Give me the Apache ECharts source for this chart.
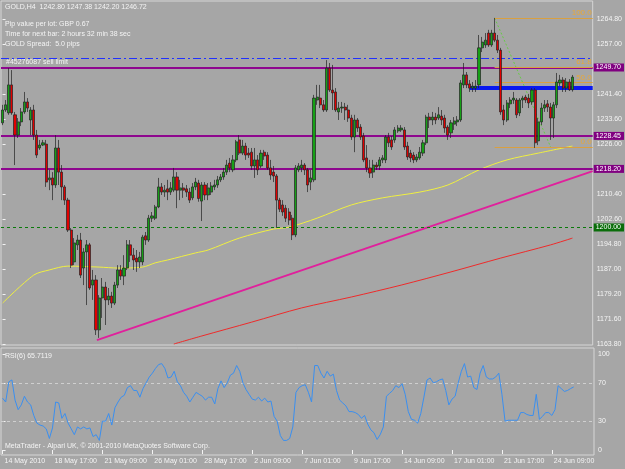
<!DOCTYPE html>
<html><head><meta charset="utf-8">
<script src="https://cdn.jsdelivr.net/npm/echarts@6/dist/echarts.min.js"></script>
<style>html,body{margin:0;padding:0;background:#a6a6a6}#c{width:625px;height:469px}</style>
</head><body><div id="c"></div>
<script>
// GOLD H4 candles: [open, close, low, high]
const candles = [
[1232.5,1236.5,1231.8,1238.1],[1236.5,1238.1,1235.9,1239.6],[1235.6,1244.3,1235.0,1249.5],[1244.3,1235.6,1235.0,1248.9],
[1235.0,1228.7,1219.4,1235.9],[1228.7,1232.8,1227.8,1234.0],[1232.8,1235.9,1231.5,1237.1],[1235.9,1239.0,1235.3,1242.1],
[1239.0,1237.1,1235.9,1240.2],[1233.4,1236.5,1228.7,1237.4],[1236.5,1228.7,1227.2,1238.1],[1228.7,1222.5,1221.6,1230.3],
[1224.7,1225.6,1224.1,1227.2],[1225.6,1226.3,1225.3,1227.2],[1225.9,1214.1,1212.6,1227.2],[1214.8,1215.4,1211.6,1217.9],
[1215.4,1213.2,1208.5,1217.2],[1213.2,1224.7,1212.3,1228.7],[1224.7,1217.2,1213.2,1227.2],[1217.2,1212.6,1208.5,1219.4],
[1212.6,1208.5,1207.0,1213.2],[1208.5,1199.2,1198.6,1209.2],[1199.2,1188.3,1187.4,1199.8],[1189.3,1195.2,1188.3,1196.7],
[1194.6,1196.1,1193.0,1197.7],[1196.1,1185.2,1184.3,1198.3],[1187.4,1192.4,1182.1,1193.6],[1192.4,1194.6,1175.9,1196.1],
[1194.6,1181.2,1180.6,1195.2],[1182.1,1183.7,1177.5,1186.8],[1183.7,1168.2,1166.6,1185.2],[1168.2,1178.1,1165.7,1179.0],
[1178.1,1181.5,1171.9,1184.3],[1181.5,1177.5,1169.7,1183.1],[1177.5,1178.7,1175.9,1181.2],[1178.7,1176.5,1175.0,1180.0],
[1176.5,1182.1,1175.9,1183.1],[1182.1,1186.8,1181.2,1188.3],[1186.8,1184.9,1183.7,1188.3],[1184.9,1187.4,1182.1,1191.4],
[1187.4,1194.6,1186.8,1196.1],[1194.6,1191.4,1189.3,1196.1],[1191.4,1189.9,1186.8,1193.6],[1190.5,1189.3,1186.2,1193.0],
[1189.3,1190.8,1187.4,1192.4],[1189.3,1197.0,1188.3,1197.7],[1197.4,1196.1,1194.6,1198.6],[1196.1,1202.9,1195.5,1203.9],
[1202.9,1203.6,1201.7,1204.8],[1202.9,1206.4,1202.3,1207.0],[1206.4,1212.6,1206.0,1215.4],[1212.6,1211.0,1210.1,1213.8],
[1211.0,1211.6,1209.5,1213.2],[1212.0,1211.0,1208.5,1214.8],[1211.0,1212.3,1210.1,1214.1],[1211.6,1215.7,1211.0,1218.5],
[1215.7,1211.6,1206.0,1217.2],[1211.6,1212.3,1208.5,1214.8],[1212.3,1211.6,1209.2,1213.8],[1212.0,1211.0,1209.5,1213.2],
[1211.0,1208.5,1207.6,1212.3],[1209.2,1212.6,1208.5,1213.8],[1212.6,1214.1,1211.6,1215.4],[1213.8,1209.0,1208.0,1214.8],
[1208.2,1213.2,1202.0,1214.1],[1213.2,1210.1,1208.5,1214.1],[1210.1,1212.3,1208.5,1213.8],[1211.0,1212.9,1210.1,1214.1],
[1212.6,1213.2,1211.6,1214.8],[1213.2,1214.8,1212.3,1216.0],[1214.8,1215.7,1214.1,1216.6],[1215.7,1217.2,1214.8,1218.5],
[1217.2,1219.4,1216.3,1221.0],[1220.0,1218.5,1217.2,1221.6],[1217.9,1221.0,1217.2,1222.5],[1221.0,1226.6,1220.3,1227.2],
[1227.2,1223.1,1222.5,1228.7],[1223.1,1225.3,1222.5,1227.2],[1225.3,1222.5,1221.0,1226.3],[1223.1,1222.5,1221.6,1224.7],
[1223.4,1219.1,1217.9,1224.7],[1219.1,1221.0,1215.4,1224.7],[1221.0,1217.9,1216.3,1222.5],[1219.1,1223.1,1218.5,1224.1],
[1223.4,1222.2,1221.0,1224.1],[1222.5,1218.5,1217.9,1223.4],[1218.5,1216.3,1214.8,1221.0],[1217.2,1216.0,1214.1,1219.1],
[1216.0,1208.5,1199.8,1216.6],[1208.5,1205.7,1204.8,1209.2],[1207.0,1204.8,1203.6,1208.5],[1206.0,1202.9,1201.7,1207.0],
[1204.8,1202.3,1200.8,1206.0],[1202.9,1197.7,1196.1,1203.9],[1197.7,1218.5,1197.0,1219.4],[1217.9,1219.1,1217.2,1220.0],
[1218.5,1219.4,1217.2,1221.0],[1219.4,1217.9,1216.3,1220.0],[1217.9,1213.2,1211.0,1218.5],[1214.1,1215.4,1211.6,1217.9],
[1214.8,1240.2,1214.1,1241.2],[1239.6,1240.5,1238.1,1244.3],[1240.2,1238.1,1237.1,1244.3],[1238.1,1236.5,1235.9,1239.6],
[1236.5,1249.5,1235.9,1252.0],[1249.5,1242.7,1242.1,1251.1],[1242.7,1241.8,1236.5,1250.5],[1242.1,1236.5,1235.9,1243.3],
[1235.9,1237.1,1233.4,1239.0],[1237.1,1237.4,1235.6,1239.0],[1237.4,1236.5,1233.4,1238.7],[1236.5,1234.0,1232.8,1238.1],
[1234.0,1228.1,1227.2,1235.0],[1228.1,1233.4,1223.4,1235.0],[1233.4,1230.9,1229.7,1234.0],[1231.2,1228.1,1227.2,1232.1],
[1228.4,1221.0,1220.3,1229.4],[1221.6,1218.5,1217.2,1225.6],[1218.5,1216.9,1215.4,1221.0],[1217.2,1219.4,1215.4,1221.0],
[1219.4,1218.8,1217.9,1220.3],[1219.1,1221.0,1217.9,1221.9],[1221.0,1221.6,1220.0,1222.5],[1221.0,1228.1,1220.0,1228.7],
[1228.1,1226.3,1225.0,1229.4],[1227.2,1225.0,1224.1,1228.4],[1227.2,1230.3,1226.3,1231.2],[1230.0,1230.9,1229.4,1231.8],
[1230.3,1230.9,1229.7,1231.8],[1230.3,1225.0,1224.1,1231.2],[1225.3,1221.9,1221.0,1226.6],[1223.1,1221.6,1220.3,1224.1],
[1222.5,1221.0,1220.0,1223.4],[1221.0,1221.9,1220.3,1222.8],[1221.6,1223.4,1221.0,1225.0],[1223.1,1226.3,1222.2,1227.2],
[1226.3,1234.3,1225.6,1235.0],[1234.3,1233.4,1230.9,1235.6],[1233.4,1234.3,1231.8,1235.9],[1234.3,1233.4,1232.1,1235.6],
[1234.0,1235.0,1233.4,1237.4],[1234.6,1233.4,1231.8,1236.5],[1234.0,1230.9,1229.4,1235.0],[1231.2,1228.7,1227.2,1231.8],
[1229.4,1232.5,1227.8,1233.4],[1232.1,1233.1,1230.3,1234.3],[1232.8,1233.4,1231.5,1234.6],[1233.4,1244.9,1232.8,1245.8],
[1244.3,1247.4,1243.3,1251.1],[1247.4,1244.3,1243.3,1248.3],[1244.6,1243.3,1242.1,1245.8],[1243.3,1243.9,1242.1,1245.2],
[1243.3,1243.9,1242.1,1245.8],[1244.3,1255.8,1243.3,1259.8],[1255.8,1257.6,1254.5,1259.2],[1256.7,1258.2,1255.8,1260.4],
[1260.4,1256.7,1256.1,1261.4],[1256.7,1260.4,1256.1,1261.4],[1260.4,1258.2,1257.6,1265.1],[1258.2,1255.1,1254.2,1259.8],
[1255.1,1235.9,1235.0,1255.8],[1236.5,1233.4,1231.8,1238.1],[1233.4,1238.7,1232.8,1239.6],[1238.4,1239.6,1237.1,1240.5],
[1239.6,1240.2,1238.4,1242.1],[1239.6,1235.0,1234.0,1240.2],[1235.6,1239.6,1234.6,1240.2],[1239.6,1240.2,1237.1,1240.9],
[1240.5,1239.6,1238.7,1241.2],[1240.2,1238.7,1237.1,1241.5],[1239.0,1242.7,1238.1,1243.3],[1242.7,1226.3,1224.7,1243.3],
[1226.9,1232.8,1225.6,1234.0],[1232.8,1237.1,1231.8,1238.7],[1237.1,1238.1,1235.9,1239.6],[1238.4,1237.4,1235.9,1239.6],
[1237.4,1234.0,1227.2,1238.7],[1234.0,1238.1,1227.8,1239.0],[1238.1,1245.2,1237.1,1248.0],[1244.9,1245.8,1243.9,1247.4],
[1245.8,1243.3,1242.1,1246.7],[1243.3,1245.2,1242.1,1246.4],[1245.2,1242.8,1242.4,1246.1],[1242.80,1246.72,1242.20,1247.38]
];
const futureBars = 6;
const tickEvery = 16;
const tickLabels = ['14 May 2010','18 May 17:00','21 May 09:00','26 May 01:00','28 May 17:00','2 Jun 09:00',
  '7 Jun 01:00','9 Jun 17:00','14 Jun 09:00','17 Jun 01:00','21 Jun 17:00','24 Jun 09:00'];
const priceTicks = [1264.80,1257.00,1241.40,1233.60,1226.00,1210.40,1202.60,1194.80,1187.00,1179.20,1171.60,1163.80];
const priceMin = 1163.49, priceMax = 1270.36;
// RSI(6), one reading per bar
const rsiValues = [54,50,71,73,52,42,47,56,50,47,36,28,26,25,22,12,23,50,49,33,38,28,22,16,24,22,24,22,23,14,
16,10,30,30,38,26,44,50,55,57,65,67,62,62,55,64,70,76,80,85,89,90,85,75,76,82,71,67,60,56,
50,55,60,58,56,52,55,55,48,64,72,65,70,78,80,88,82,70,63,58,53,52,55,51,54,50,51,35,30,15,
10,10,12,24,60,65,67,68,60,50,88,88,80,75,82,77,79,62,52,49,46,40,40,39,37,33,36,27,21,18,
11,16,24,56,59,62,67,65,69,58,40,32,31,28,38,55,73,75,70,71,73,74,62,47,53,56,70,82,90,76,
77,65,63,80,88,76,74,74,76,80,58,30,31,31,31,31,39,39,37,36,36,58,32,35,39,39,36,42,67,64,
61,62,64,65.7];
const rsiTicks = [0,30,70,100];
const rsiLevels = [30,70];
// moving averages read at [bar, price]
const maYellow = [[0,1176.5],[10,1185.2],[15,1186.8],[21,1188.0],[31,1187.7],[37,1187.4],[45,1187.7],[49,1189.0],
  [53,1189.9],[62,1192.1],[66,1193.0],[76,1196.7],[87,1199.5],[92,1200.1],[101,1202.9],[112,1207.0],[122,1209.2],
  [134,1211.0],[143,1213.2],[153,1217.9],[162,1221.0],[172,1223.1],[183,1225.3]];
const maRed = [[55,1163.8],[64,1166.3],[80,1170.6],[96,1175.0],[112,1178.4],[128,1182.1],[144,1186.2],[160,1190.5],
  [176,1194.6],[183,1196.7]];
const hLevels = [1249.70,1228.45,1218.20];
const hLevelLabels = ['1249.70','1228.45','1218.20'];
const greenLevel = 1200.00;
const blueDashLevel = 1252.65;
const blueThickLevel = 1243.3, blueThickStart = 150;
const bidPrice = 1246.72;
const fibNames = ['100.0','61.8','50.0','0.0'];
const fibPrices = [1265.1,1249.8,1245.05,1225.0];
const fibStart = 158;
const fibTrend = [[158,1265.1],[176,1225.0]];
const trendLine = [[30.3,1165.0],[189.5,1217.5]];

const N = candles.length + futureBars;
const categories = Array.from({length:N}, (_, i) => String(i));
const xMin = -0.5, xMax = N - 0.5;
const tickPositions = tickLabels.map((_, k) => k * tickEvery);
const FONT = '"Liberation Sans", Arial, sans-serif';
const TXT = '#f4f4f4';
const FS = 7;

const chart = echarts.init(document.getElementById('c'));
const hMarks = hLevels.map((v, k) => ({
  yAxis: v, lineStyle: {color: '#8e068e', width: 2, type: 'solid'},
  label: {show: true, position: 'end', distance: 1, formatter: hLevelLabels[k], backgroundColor: '#800080',
    color: '#ffffff', fontSize: FS, fontFamily: FONT, padding: [1, 3, 0, 2]}
}));
const fibMarks = fibPrices.map((p, k) => ([
  {coord: [fibStart, p], label: {show: true, position: 'insideEndTop', formatter: fibNames[k], color: '#e8a838',
     fontSize: 8, fontFamily: FONT, distance: 1}},
  {coord: [xMax, p]}
]));

chart.setOption({
  animation: false,
  backgroundColor: '#a6a6a6',
  grid: [
    {left: 1, top: 1, width: 593, height: 344, show: true, borderColor: '#d6d6d6', borderWidth: 1},
    {left: 1, top: 348, width: 593, height: 107, show: true, borderColor: '#d6d6d6', borderWidth: 1}
  ],
  xAxis: [
    {type: 'category', gridIndex: 0, data: categories, boundaryGap: true, show: false},
    {type: 'value', gridIndex: 0, min: xMin, max: xMax, show: false},
    {type: 'value', gridIndex: 1, min: xMin, max: xMax, position: 'bottom',
      axisLine: {show: false}, splitLine: {show: false},
      axisTick: {show: true, customValues: tickPositions, length: 4, lineStyle: {color: TXT}},
      axisLabel: {show: true, customValues: tickPositions, formatter: v => tickLabels[Math.round(v / tickEvery)],
        align: 'left', margin: 3, padding: [0, 0, 0, 2], color: TXT, fontSize: FS, fontFamily: FONT}}
  ],
  yAxis: [
    {type: 'value', gridIndex: 0, position: 'right', min: priceMin, max: priceMax,
      axisLine: {show: false}, splitLine: {show: false},
      axisTick: {show: true, customValues: priceTicks, length: 3, lineStyle: {color: TXT}},
      axisLabel: {show: true, customValues: priceTicks, formatter: v => v.toFixed(2), margin: 4,
        color: TXT, fontSize: FS, fontFamily: FONT}},
    {type: 'value', gridIndex: 1, position: 'right', min: -5.2, max: 106.25,
      axisLine: {show: false}, splitLine: {show: false},
      axisTick: {show: true, customValues: rsiTicks, length: 3, lineStyle: {color: TXT}},
      axisLabel: {show: true, customValues: rsiTicks, formatter: v => String(v), margin: 4,
        color: TXT, fontSize: FS, fontFamily: FONT}}
  ],
  series: [
    {type: 'line', name: 'levels', xAxisIndex: 1, yAxisIndex: 0, data: [], z: 2,
      markLine: {silent: true, symbol: ['none', 'none'], animation: false, data: [
        {yAxis: blueDashLevel, lineStyle: {color: '#2030ff', width: 1, type: [8, 3, 2, 3]}, label: {show: false}},
        {yAxis: greenLevel, lineStyle: {color: '#0a7a0a', width: 1, type: [3, 3]},
          label: {show: true, position: 'end', distance: 1, formatter: '1200.00', backgroundColor: '#0a6e0a',
            color: '#ffffff', fontSize: FS, fontFamily: FONT, padding: [1, 3, 0, 2]}},
        ...hMarks
      ]}},
    {type: 'line', name: 'fib', xAxisIndex: 1, yAxisIndex: 0, data: [], z: 3,
      markLine: {silent: true, symbol: ['none', 'none'], animation: false,
        lineStyle: {color: '#d9a040', width: 1, type: 'solid'}, data: fibMarks}},
    {type: 'line', name: 'fibTrend', xAxisIndex: 1, yAxisIndex: 0, data: fibTrend, showSymbol: false, z: 3,
      lineStyle: {color: '#66cc44', width: 1, type: [2, 2]}},
    {type: 'line', name: 'blueZone', xAxisIndex: 1, yAxisIndex: 0,
      data: [[blueThickStart, blueThickLevel], [xMax, blueThickLevel]], showSymbol: false, z: 3,
      lineStyle: {color: '#0818f0', width: 4}},
    {type: 'line', name: 'trend', xAxisIndex: 1, yAxisIndex: 0, data: trendLine, showSymbol: false, z: 3,
      lineStyle: {color: '#e0209c', width: 2}},
    {type: 'line', name: 'maYellow', xAxisIndex: 1, yAxisIndex: 0, data: maYellow, showSymbol: false, smooth: 0.3, z: 4,
      lineStyle: {color: '#f0f040', width: 1}},
    {type: 'line', name: 'maRed', xAxisIndex: 1, yAxisIndex: 0, data: maRed, showSymbol: false, smooth: 0.3, z: 4,
      lineStyle: {color: '#ee2a2a', width: 1}},
    {type: 'candlestick', name: 'GOLD,H4', xAxisIndex: 0, yAxisIndex: 0, data: candles, barWidth: 2.6, z: 5,
      itemStyle: {color: '#16a016', color0: '#e00000', borderColor: '#222222', borderColor0: '#222222', borderWidth: 0.7},
      markLine: {silent: true, symbol: ['none', 'none'], animation: false, data: [
        {yAxis: bidPrice, lineStyle: {opacity: 0}, label: {show: true, position: 'end', distance: 1,
          formatter: '1246.72', backgroundColor: '#ffffff', color: '#808080', fontSize: FS, fontFamily: FONT,
          padding: [1, 3, 0, 2]}}
      ]}},
    {type: 'line', name: 'RSI(6)', xAxisIndex: 2, yAxisIndex: 1, data: rsiValues.map((v, i) => [i, v]),
      showSymbol: false, lineStyle: {color: '#3a8ff0', width: 1}, z: 5,
      markLine: {silent: true, symbol: ['none', 'none'], animation: false, label: {show: false},
        lineStyle: {color: '#cfcfcf', width: 1, type: [3, 3]}, data: rsiLevels.map(v => ({yAxis: v}))}}
  ],
  graphic: [
    {type: 'text', left: 5, top: 4, style: {text: 'GOLD,H4  1242.80 1247.38 1242.20 1246.72', fill: TXT, font: FS + 'px ' + FONT}},
    {type: 'text', left: 5, top: 21, style: {text: 'Pip value per lot: GBP 0.67', fill: TXT, font: FS + 'px ' + FONT}},
    {type: 'text', left: 5, top: 31, style: {text: 'Time for next bar: 2 hours 32 min 38 sec', fill: TXT, font: FS + 'px ' + FONT}},
    {type: 'text', left: 5, top: 41, style: {text: 'GOLD Spread:  5.0 pips', fill: TXT, font: FS + 'px ' + FONT}},
    {type: 'text', left: 6, top: 59, style: {text: '#45276087 sell limit', fill: TXT, font: FS + 'px ' + FONT}},
    {type: 'text', left: 5, top: 353, style: {text: 'RSI(6) 65.7119', fill: TXT, font: FS + 'px ' + FONT}},
    {type: 'text', left: 5, top: 443, style: {text: 'MetaTrader - Alpari UK, \u00a9 2001-2010 MetaQuotes Software Corp.', fill: TXT, font: FS + 'px ' + FONT}}
  ]
});
</script></body></html>
